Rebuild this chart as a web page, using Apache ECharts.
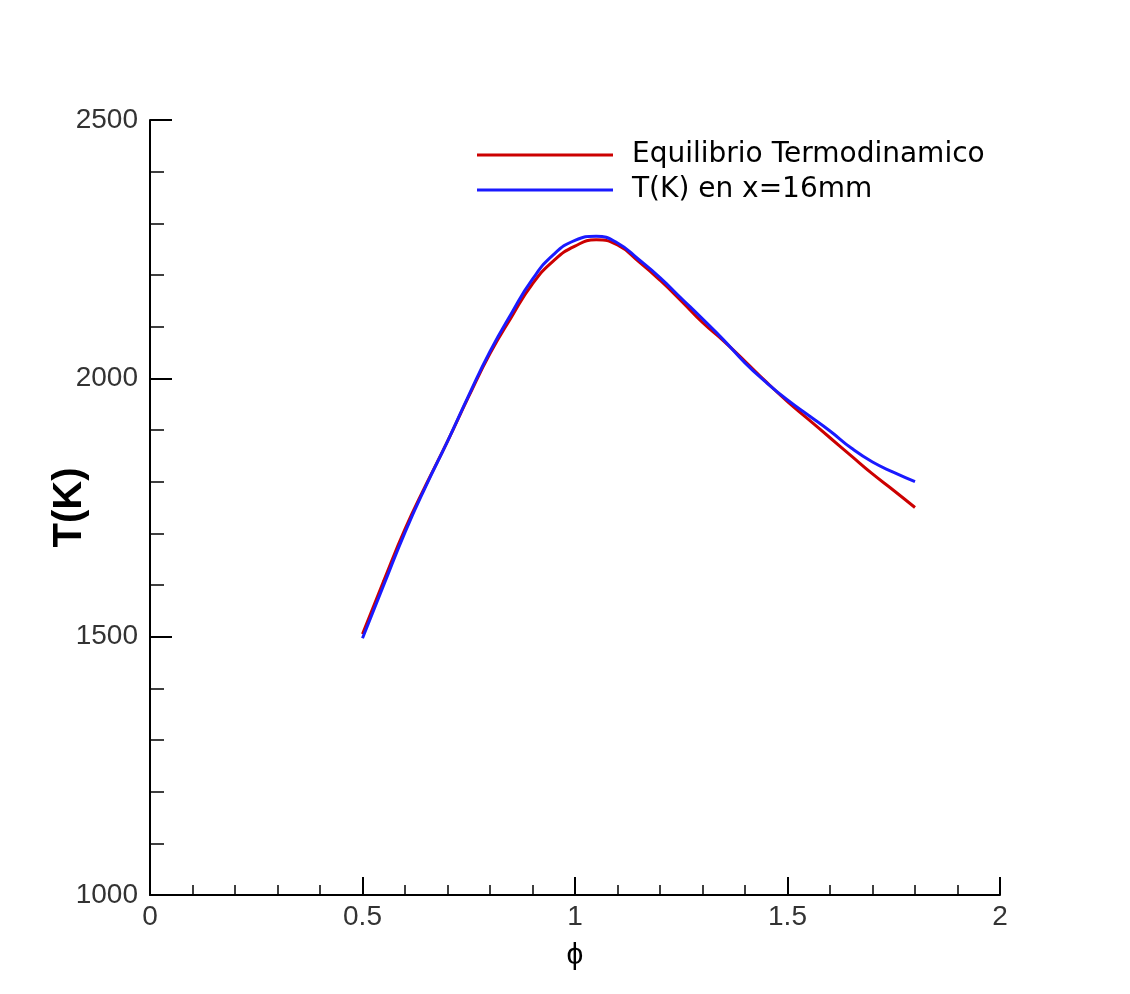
<!DOCTYPE html>
<html>
<head>
<meta charset="utf-8">
<script src="https://cdn.jsdelivr.net/npm/echarts@6/dist/echarts.min.js"></script>
<style>
html,body{margin:0;padding:0;background:#fff;}
#chart{width:1130px;height:994px;}
</style>
</head>
<body>
<div id="chart"></div>
<script>
const phi = [0.5, 0.55, 0.6, 0.65, 0.7, 0.75, 0.8, 0.85, 0.9, 0.95, 1.0, 1.05, 1.1, 1.15, 1.2, 1.25, 1.3, 1.35, 1.4, 1.45, 1.5, 1.55, 1.6, 1.65, 1.7, 1.75, 1.8];
const tEquilibrio = [1505, 1608, 1708, 1795, 1878, 1965, 2048, 2118, 2183, 2228, 2256, 2268, 2258, 2226, 2190, 2150, 2108, 2072, 2033, 1993, 1955, 1920, 1885, 1850, 1815, 1783, 1750];
const tX16 = [1497, 1600, 1702, 1793, 1878, 1967, 2052, 2125, 2192, 2240, 2267, 2275, 2262, 2230, 2195, 2155, 2115, 2074, 2030, 1992, 1958, 1928, 1898, 1865, 1838, 1818, 1800];
const seriesNames = ['Equilibrio Termodinamico', 'T(K) en x=16mm'];

const chart = echarts.init(document.getElementById('chart'), null, {renderer: 'canvas'});
const font = 'Liberation Sans, Arial, Helvetica, sans-serif';
chart.setOption({
  backgroundColor: '#ffffff',
  animation: false,
  grid: {left: 150, right: 130, top: 120, bottom: 99, containLabel: false},
  legend: {
    orient: 'vertical',
    left: 472,
    top: 136,
    itemWidth: 136,
    itemHeight: 3,
    itemGap: 7,
    icon: 'rect',
    textStyle: {fontFamily: 'DejaVu Sans, sans-serif', fontSize: 28, color: '#000', padding: [0,0,0,14]},
    data: seriesNames
  },
  xAxis: {
    type: 'value', min: 0, max: 2, interval: 0.5,
    name: 'ϕ', nameLocation: 'middle', nameGap: 46, nameMoveOverlap: false,
    nameTextStyle: {fontFamily: font, fontSize: 30, color: '#000'},
    axisLine: {show: true, lineStyle: {color: '#000', width: 2}},
    axisTick: {show: true, inside: true, length: 18, lineStyle: {color: '#000', width: 2}},
    minorTick: {show: true, splitNumber: 5, length: 10, lineStyle: {color: '#000', width: 1.5}},
    axisLabel: {fontFamily: font, fontSize: 28, color: '#333', margin: 8},
    splitLine: {show: false}
  },
  yAxis: {
    type: 'value', min: 1000, max: 2500, interval: 500,
    name: 'T(K)', nameLocation: 'middle', nameGap: 60, nameMoveOverlap: false,
    nameTextStyle: {fontFamily: font, fontSize: 40, fontWeight: 'bold', color: '#000'},
    axisLine: {show: true, lineStyle: {color: '#000', width: 2}},
    axisTick: {show: true, inside: true, length: 22, lineStyle: {color: '#000', width: 2}},
    minorTick: {show: true, splitNumber: 5, length: 14, lineStyle: {color: '#000', width: 1.5}},
    axisLabel: {fontFamily: font, fontSize: 28, color: '#333', margin: 12, verticalAlign: 'middle', formatter: v => String(v)},
    splitLine: {show: false}
  },
  series: [
    {
      name: seriesNames[0], type: 'line', smooth: true, showSymbol: false,
      data: phi.map((x, i) => [x, tEquilibrio[i]]),
      lineStyle: {color: '#cc0000', width: 3}, itemStyle: {color: '#cc0000'}
    },
    {
      name: seriesNames[1], type: 'line', smooth: true, showSymbol: false,
      data: phi.map((x, i) => [x, tX16[i]]),
      lineStyle: {color: '#1a1aff', width: 3}, itemStyle: {color: '#1a1aff'}
    }
  ]
});
</script>
</body>
</html>
